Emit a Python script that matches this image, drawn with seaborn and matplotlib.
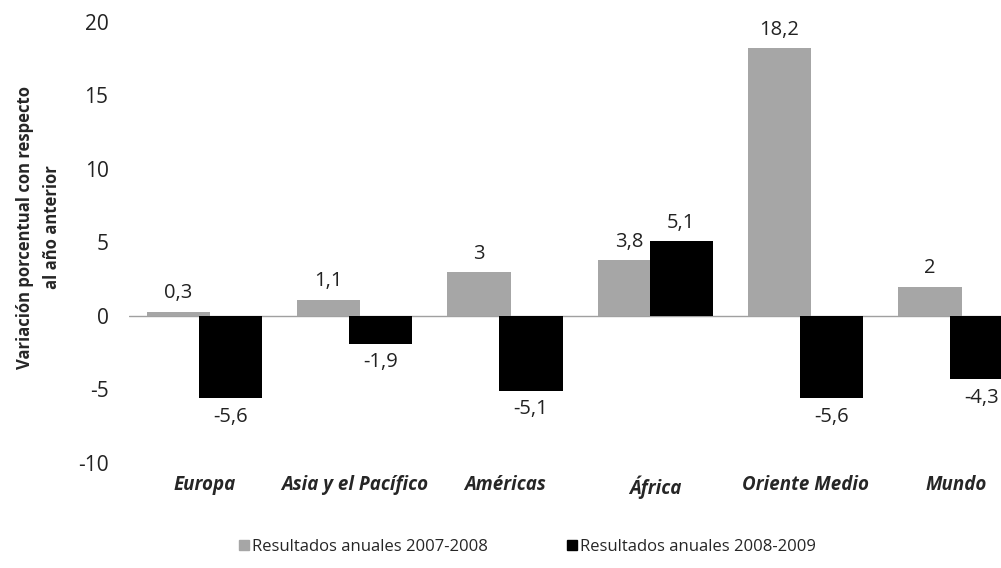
import pandas as pd
import seaborn as sns
import matplotlib.pyplot as plt
from matplotlib.patches import Patch

# datos del grafico
regiones = ['Europa', 'Asia y el Pacífico', 'Américas', 'África', 'Oriente Medio', 'Mundo']
res_2007_2008 = [0.3, 1.1, 3, 3.8, 18.2, 2]
res_2008_2009 = [-5.6, -1.9, -5.1, 5.1, -5.6, -4.3]
series = ['Resultados anuales 2007-2008', 'Resultados anuales 2008-2009']
colores = ['#a6a6a6', '#000000']
yticks = [-10, -5, 0, 5, 10, 15, 20]

df = pd.DataFrame({'region': regiones, series[0]: res_2007_2008, series[1]: res_2008_2009})
df_long = df.melt(id_vars='region', var_name='serie', value_name='valor')

sns.set_style('white')
plt.rcParams['font.family'] = ['Open Sans', 'DejaVu Sans']

fig = plt.figure(figsize=(10.01, 5.68), dpi=100)
ax = fig.add_axes([0.1292, 0.1849, 0.9008, 0.7764])

sns.barplot(data=df_long, x='region', y='valor', hue='serie', order=regiones,
            hue_order=series, palette=colores, saturation=1, width=0.692,
            linewidth=0, legend=False, ax=ax, zorder=3)

# ensanchar las barras para que se solapen un poco (como en Excel)
for cont in ax.containers:
    for b in cont:
        c = b.get_x() + b.get_width() / 2
        b.set_width(0.422)
        b.set_x(c - 0.211)

# etiquetas de datos
for cont, vals in zip(ax.containers, [res_2007_2008, res_2008_2009]):
    labs = [f'{v:g}'.replace('.', ',') for v in vals]
    ax.bar_label(cont, labels=labs, padding=6, fontsize=14.5, color='#222222')

ax.axhline(0, color='#a0a0a0', lw=1, zorder=2)
ax.set_ylim(-10, 20)
ax.set_xlim(-0.5, len(regiones) - 0.5)
ax.set_yticks(yticks)
ax.set_yticklabels([str(t) for t in yticks], fontsize=15, color='#222222')
ax.tick_params(axis='y', length=0, pad=15)
ax.tick_params(axis='x', length=0, pad=9)
for lab in ax.get_xticklabels():
    lab.set_fontweight('bold')
    lab.set_fontstyle('italic')
    lab.set_fontsize(13.5)
ax.set_xlabel('')
ax.set_ylabel('Variación porcentual con respecto\nal año anterior', fontsize=12,
              fontweight='bold', linespacing=1.6)
ax.yaxis.set_label_coords(-0.076, 0.535)
sns.despine(ax=ax, left=True, bottom=True)

handles = [Patch(color=colores[0]), Patch(color=colores[1])]
fig.legend(handles, series, loc='center', bbox_to_anchor=(0.527, 0.037), ncol=2,
           frameon=False, fontsize=12, handlelength=0.6, handleheight=0.6,
           handletextpad=0.2, columnspacing=4.7)

fig.savefig('out.png', dpi=100)
